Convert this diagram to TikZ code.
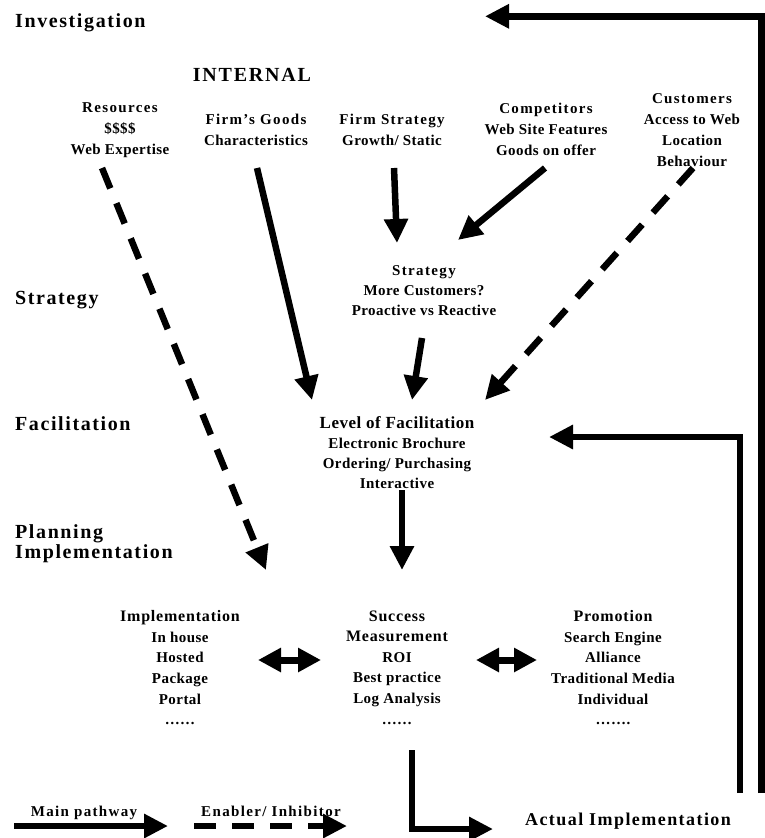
\documentclass[tikz,border=0pt]{standalone}
\usepackage{fontspec}
\setmainfont{Liberation Serif}
\newfontfamily\SecF{Liberation Serif Bold}[LetterSpace=8]
\newfontfamily\HdF{Liberation Serif Bold}[LetterSpace=9]
\newfontfamily\BhF{Liberation Serif Bold}[LetterSpace=5]
\newfontfamily\ItF{Liberation Serif Bold}[LetterSpace=3]
\usetikzlibrary{arrows.meta}
\tikzset{
  sec/.style={anchor=base west, inner sep=0pt, font=\SecF\fontsize{20}{24}\selectfont},
  blk/.style={anchor=north, align=center, inner sep=0pt, font=\ItF\fontsize{15}{21}\selectfont},
  lowblk/.style={anchor=north, align=center, inner sep=0pt, font=\ItF\fontsize{15}{20.6}\selectfont},
  lbl/.style={anchor=base, inner sep=0pt, font=\HdF\fontsize{15}{18}\selectfont},
  mainarrow/.style={line width=6.5pt, line join=miter, -{Triangle[length=24pt,width=23pt]}},
  enabarrow/.style={mainarrow, dash pattern=on 22pt off 16pt},
  dblarrow/.style={line width=7pt, {Triangle[length=23pt,width=23pt]}-{Triangle[length=23pt,width=23pt]}}
}
\begin{document}
\begin{tikzpicture}[x=1pt,y=-1pt]
\useasboundingbox (0,0) rectangle (765,838);
% stage labels
\node[sec] (lInv) at (15,27) {Investigation};
\node[sec] (lStr) at (15,304) {Strategy};
\node[sec] (lFac) at (15,430) {Facilitation};
\node[sec] (lPlan) at (15,538) {Planning};
\node[sec] (lImp) at (15,558) {Implementation};
\node[anchor=base, inner sep=0pt, font=\HdF\fontsize{20}{24}\selectfont] (internal) at (252,81.5) {INTERNAL};
% top factors
\node[blk] (res) at (120,102.5) {{\HdF Resources}\\\$\$\$\$\\Web Expertise};
\node[blk] (goods) at (256,113.5) {{\HdF Firm’s Goods}\\Characteristics};
\node[blk] (fstrat) at (392,113.5) {{\HdF Firm Strategy}\\Growth/ Static};
\node[blk] (comp) at (546,102.5) {{\HdF Competitors}\\Web Site Features\\Goods on offer};
\node[blk] (cust) at (692,93.5) {{\HdF Customers}\\Access to Web\\Location\\Behaviour};
% strategy
\node[lowblk, font=\ItF\fontsize{15}{20}\selectfont] (strat) at (424,265.5) {{\HdF Strategy}\\More Customers?\\Proactive vs Reactive};
% facilitation
\node[lowblk, font=\ItF\fontsize{15}{20}\selectfont] (level) at (397,416) {{\ItF\fontsize{17}{20}\selectfont Level of Facilitation}\\Electronic Brochure\\Ordering/ Purchasing\\Interactive};
% implementation columns
\node[lowblk] (impl) at (180,610.3) {{\BhF\fontsize{16}{20.6}\selectfont Implementation}\\In house\\Hosted\\Package\\Portal\\……};
\node[lowblk] (succ) at (397,610.3) {{\BhF\fontsize{16}{20.6}\selectfont Success}\\{\BhF\fontsize{16}{20.6}\selectfont Measurement}\\ROI\\Best practice\\Log Analysis\\……};
\node[lowblk] (prom) at (613,610.3) {{\BhF\fontsize{16}{20.6}\selectfont Promotion}\\Search Engine\\Alliance\\Traditional Media\\Individual\\…….};
% bottom
\node[anchor=base, inner sep=0pt, font=\SecF\fontsize{18}{22}\selectfont] (actual) at (628,825) {Actual Implementation};
\node[lbl] (legMain) at (84,816) {Main pathway};
\node[lbl] (legEnab) at (271,816) {Enabler/ Inhibitor};
% connector end points
\coordinate (rs) at (102,168); \coordinate (rt) at (266,570);
\coordinate (gs) at (257,168); \coordinate (gt) at (312,400);
\coordinate (fs) at (394,168); \coordinate (ft) at (397,243);
\coordinate (cs) at (545,168); \coordinate (ct) at (458,240);
\coordinate (us) at (693,168); \coordinate (ut) at (485,400);
\coordinate (ss) at (422,338); \coordinate (st) at (412,400);
\coordinate (vs) at (402,490); \coordinate (vt) at (402,570);
\coordinate (la) at (740,793); \coordinate (lb) at (740,437); \coordinate (lt) at (549,437);
\coordinate (ta) at (761.5,793); \coordinate (tb) at (761.5,16.3); \coordinate (tt) at (485,16.3);
\coordinate (aa) at (412,750); \coordinate (ab) at (412,829); \coordinate (at2) at (493,829);
\coordinate (d1a) at (258,660); \coordinate (d1b) at (321,660);
\coordinate (d2a) at (476,660); \coordinate (d2b) at (537,660);
\coordinate (m1) at (14,826); \coordinate (m2) at (168,826);
\coordinate (e1) at (194,826); \coordinate (e2) at (347,826);
% connectors
\draw[enabarrow] (rs) -- (rt);
\draw[mainarrow] (gs) -- (gt);
\draw[mainarrow] (fs) -- (ft);
\draw[mainarrow] (cs) -- (ct);
\draw[enabarrow] (us) -- (ut);
\draw[mainarrow] (ss) -- (st);
\draw[mainarrow] (vs) -- (vt);
\draw[mainarrow] (la) -- (lb) -- (lt);
\draw[mainarrow] (ta) -- (tb) -- (tt);
\draw[mainarrow] (aa) -- (ab) -- (at2);
\draw[dblarrow] (d1a) -- (d1b);
\draw[dblarrow] (d2a) -- (d2b);
\draw[mainarrow] (m1) -- (m2);
\draw[enabarrow] (e1) -- (e2);
\end{tikzpicture}
\end{document}
